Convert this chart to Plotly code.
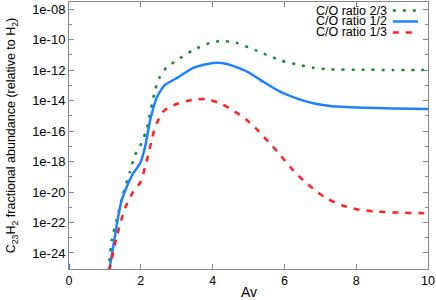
import numpy as np
import plotly.graph_objects as go

# Av values and log10 abundances
av_23 = [1.10, 1.19, 1.33, 1.51, 1.70, 1.84, 2.02, 2.17, 2.40, 2.53, 2.73, 3.01, 3.45, 4.01, 4.29, 4.68,
         5.24, 5.92, 6.34, 6.80, 7.27, 8.20, 9.00, 10.0]
lg_23 = [-25.2, -23.15, -21.8, -20.1, -18.67, -17.57, -16.8, -15.8, -13.3, -12.46, -11.8, -11.35, -10.7,
         -10.16, -10.1, -10.23, -10.75, -11.39, -11.63, -11.85, -11.96, -11.98, -12.0, -12.0]

av_12 = [0.0, 0.02, 1.10, 1.23, 1.37, 1.47, 1.61, 1.79, 1.98, 2.12, 2.26, 2.45, 2.67, 3.01, 3.45, 4.01,
         4.40, 4.96, 5.41, 5.88, 6.34, 6.80, 7.27, 8.20, 9.00, 10.0]
lg_12 = [-24.7, -30.0, -25.2, -23.59, -21.62, -20.52, -19.65, -18.77, -18.12, -17.03, -15.3, -13.77, -12.98,
         -12.52, -11.87, -11.54, -11.6, -12.1, -12.77, -13.42, -13.86, -14.18, -14.36, -14.47, -14.52, -14.55]

av_13 = [1.12, 1.33, 1.56, 1.76, 2.00, 2.12, 2.23, 2.32, 2.44, 2.65, 3.00, 3.42, 3.83, 4.25, 4.62, 4.95,
         5.27, 5.55, 5.83, 6.25, 6.57, 6.88, 7.22, 7.64, 8.01, 8.48, 8.90, 9.31, 10.0]
lg_13 = [-25.2, -22.93, -21.07, -20.1, -19.32, -18.34, -17.36, -16.4, -15.5, -14.67, -14.23, -13.97, -13.9,
         -14.23, -14.73, -15.28, -15.98, -16.7, -17.42, -18.6, -19.32, -19.93, -20.48, -20.9, -21.13,
         -21.27, -21.33, -21.36, -21.4]

series_names = ["C/O ratio 2/3", "C/O ratio 1/2", "C/O ratio 1/3"]
y_tick_exp = [-8, -10, -12, -14, -16, -18, -20, -22, -24]
y_tick_text = ["1e-08", "1e-10", "1e-12", "1e-14", "1e-16", "1e-18", "1e-20", "1e-22", "1e-24"]
x_ticks = [0, 2, 4, 6, 8, 10]

GREEN = "#0f8c32"
BLUE = "#1e82ff"
RED = "#ff2020"
FONT = "Liberation Sans"

fig = go.Figure()
styles = [(GREEN, "3px,7px"), (BLUE, "solid"), (RED, "6px,7px")]
data = [(av_23, lg_23), (av_12, lg_12), (av_13, lg_13)]
for (xs, ls), (col, dash), name in zip(data, styles, series_names):
    fig.add_trace(go.Scatter(x=xs, y=10.0 ** np.array(ls), mode="lines", name=name,
                             line=dict(color=col, width=2.5, dash=dash, shape="spline", smoothing=0.6),
                             showlegend=False))

# manual legend (gnuplot style: text then sample)
leg_y = [0.968, 0.927, 0.886]
for name, (col, dash), yy in zip(series_names, styles, leg_y):
    fig.add_annotation(x=0.889, y=yy, xref="paper", yref="paper", text=name, showarrow=False,
                       xanchor="right", yanchor="middle", font=dict(family=FONT, size=12.5, color="#000"),
                       borderpad=0)
    fig.add_shape(type="line", xref="paper", yref="paper", x0=0.902, x1=0.972, y0=yy, y1=yy,
                  line=dict(color=col, width=2.5, dash=dash))

fig.add_annotation(x=0.5, y=-0.086, xref="paper", yref="paper", text="Av", showarrow=False,
                   xanchor="center", yanchor="middle", font=dict(family=FONT, size=14, color="#000"))

axis_common = dict(showline=True, linecolor="#888", linewidth=1, mirror="ticks", ticks="inside",
                   tickcolor="#888", ticklen=5, showgrid=False, zeroline=False, automargin=False)
fig.update_xaxes(range=[0, 10], tickvals=x_ticks,
                 tickfont=dict(family=FONT, size=12.5, color="#000"), **axis_common)
fig.update_yaxes(type="log", range=[-25.05, -7.54], tickvals=[10.0 ** e for e in y_tick_exp],
                 ticktext=y_tick_text, tickfont=dict(family=FONT, size=13, color="#000"),
                 minor=dict(tickvals=[10.0 ** e for e in range(-25, -7, 2)], ticks="inside", ticklen=3,
                            tickcolor="#888"),
                 title=dict(text="C<sub>23</sub>H<sub>2</sub> fractional abundance (relative to H<sub>2</sub>)",
                            standoff=13, font=dict(family=FONT, size=12.5, color="#000")),
                 **axis_common)
fig.update_layout(width=436, height=300, margin=dict(l=69, r=8, t=2, b=31),
                  plot_bgcolor="white", paper_bgcolor="white")
fig.write_html("out.html", config={"displayModeBar": False},
               post_script="document.body.style.margin='0';")
